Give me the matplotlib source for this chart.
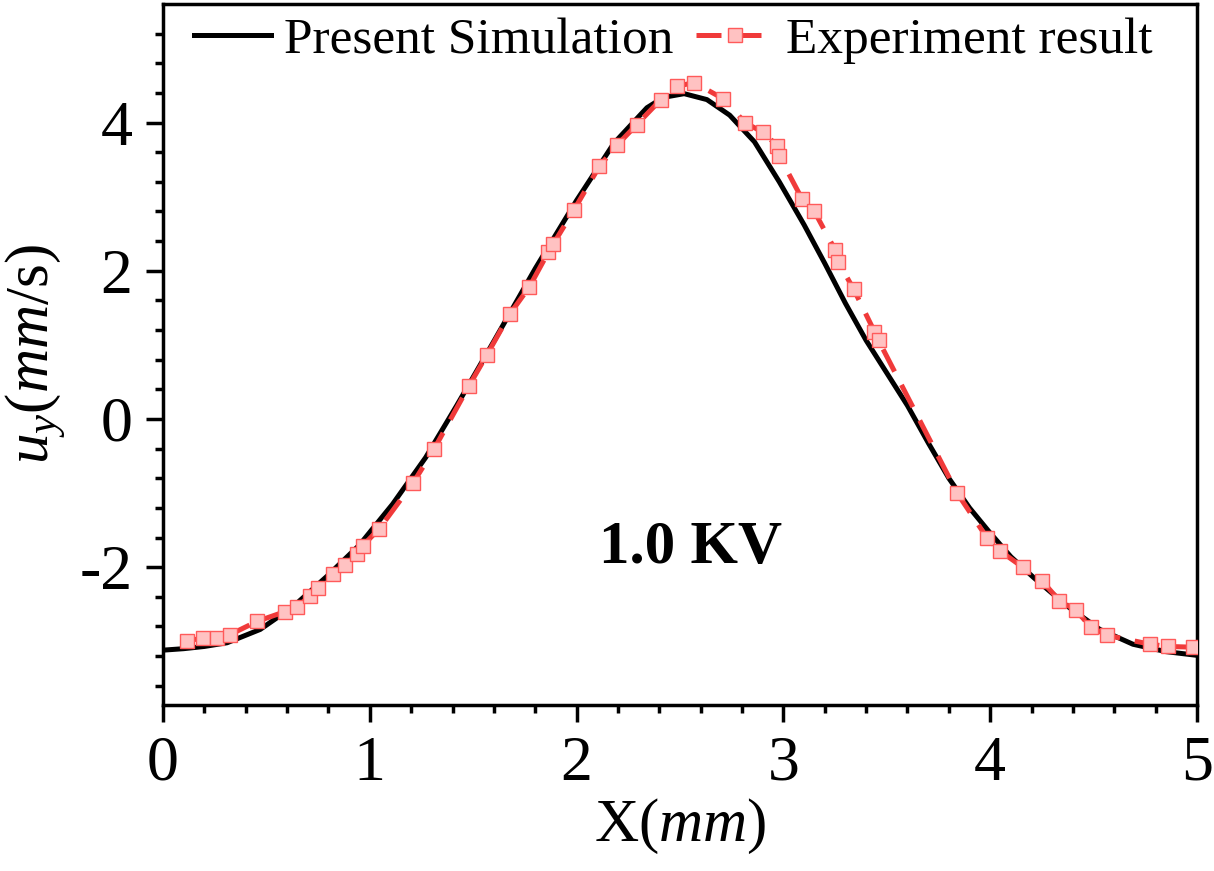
import numpy as np
import matplotlib.pyplot as plt

plt.rcParams['font.family'] = ['Liberation Serif', 'DejaVu Serif']
plt.rcParams['mathtext.fontset'] = 'custom'
plt.rcParams['mathtext.rm'] = 'Liberation Serif'
plt.rcParams['mathtext.it'] = 'Liberation Serif:italic'
plt.rcParams['mathtext.bf'] = 'Liberation Serif:bold'

# simulation curve
x_sim = [0, 0.1, 0.2, 0.31, 0.47, 0.63, 0.79, 0.95, 1.11, 1.27, 1.42, 1.6, 1.8,
         2.0, 2.18, 2.34, 2.42, 2.52, 2.63, 2.74, 2.86, 2.98, 3.1, 3.2, 3.3,
         3.4, 3.5, 3.6, 3.7, 3.8, 3.9, 4.0, 4.1, 4.21, 4.37, 4.53, 4.69, 4.85, 5.0]
y_sim = [-3.12, -3.10, -3.07, -3.02, -2.84, -2.53, -2.13, -1.70, -1.15, -0.52, 0.18, 1.05, 2.03,
         2.95, 3.72, 4.20, 4.34, 4.39, 4.31, 4.10, 3.74, 3.20, 2.62, 2.10, 1.56,
         1.06, 0.62, 0.18, -0.32, -0.80, -1.20, -1.54, -1.86, -2.14, -2.52, -2.84, -3.04, -3.14, -3.19]

# experiment points
x_exp = [0.118, 0.195, 0.26, 0.324, 0.456, 0.59, 0.646, 0.711, 0.751, 0.824, 0.88, 0.937,
         0.966, 1.046, 1.21, 1.31, 1.48, 1.565, 1.678, 1.771, 1.863, 1.887, 1.987, 2.11,
         2.197, 2.29, 2.407, 2.487, 2.568, 2.71, 2.814, 2.90, 2.97, 2.98, 3.09, 3.15,
         3.25, 3.265, 3.34, 3.44, 3.46, 3.84, 3.986, 4.047, 4.157, 4.249, 4.334, 4.415,
         4.486, 4.566, 4.773, 4.86, 4.98]
y_exp = [-2.99, -2.96, -2.96, -2.91, -2.73, -2.60, -2.54, -2.39, -2.28, -2.09, -1.97, -1.82,
         -1.71, -1.48, -0.86, -0.41, 0.45, 0.86, 1.42, 1.78, 2.25, 2.36, 2.82, 3.41,
         3.70, 3.97, 4.31, 4.49, 4.54, 4.32, 4.00, 3.87, 3.69, 3.55, 2.97, 2.80,
         2.28, 2.12, 1.75, 1.18, 1.06, -1.00, -1.61, -1.78, -2.00, -2.18, -2.45, -2.58,
         -2.81, -2.92, -3.04, -3.07, -3.08]

fig = plt.figure(figsize=(12.14, 8.71), dpi=100)
ax = fig.add_axes([0.1343, 0.1906, 0.8517, 0.8048])

ax.plot(x_sim, y_sim, color='black', lw=3.6, label='Present Simulation', zorder=3)
ax.plot(x_exp, y_exp, color='#f03a3a', lw=3.6, ls=(0, (5, 3)),
        marker='s', ms=10.5, mfc='#ffc2c2', mec='#ff5a5a', mew=1.0,
        label='Experiment result', zorder=4)

ax.set_xlim(0, 5)
ax.set_ylim(-3.86, 5.6)
ax.set_xticks([0, 1, 2, 3, 4, 5])
ax.set_yticks([-2, 0, 2, 4])
ax.set_yticklabels(['-2', '0', '2', '4'])
ax.set_xticks(np.arange(0, 5.01, 0.2), minor=True)
ax.set_yticks(np.arange(-3.6, 5.6, 0.4), minor=True)
ax.tick_params(which='major', direction='out', length=12, width=2.5, labelsize=46, pad=10)
ax.tick_params(which='minor', direction='out', length=6, width=2.5)
for s in ax.spines.values():
    s.set_linewidth(2.5)

ax.set_xlabel(r'X($\mathit{mm}$)', fontsize=44, labelpad=2)
ax.set_ylabel(r'$\mathit{u}_{\mathit{y}}$($\mathit{mm}$/s)', fontsize=44, labelpad=8)

ax.text(2.55, -1.74, '1.0 KV', fontsize=44, fontweight='bold', ha='center', va='center')

ax.legend(loc='upper left', bbox_to_anchor=(0.0, 1.025), ncol=2, frameon=False,
          fontsize=37, handlelength=1.5, handletextpad=0.25, columnspacing=0.45,
          numpoints=1, borderaxespad=0.2)

fig.savefig('out.png', dpi=100)
